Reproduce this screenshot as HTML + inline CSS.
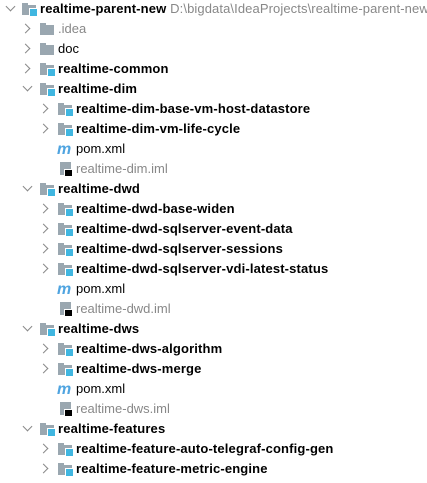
<!DOCTYPE html>
<html><head><style>
body{margin:0;width:427px;height:483px;background:#fff;overflow:hidden;position:relative;font-family:"Liberation Sans",Arial,sans-serif;font-size:13px;color:#000}
.r{position:absolute;left:0;height:20px;line-height:20px;white-space:nowrap}
.ch{position:absolute;top:6px;width:6px;height:6px;border-right:1.3px solid #888;border-bottom:1.3px solid #888}
.ch.c{transform:rotate(-45deg)}
.ch.o{transform:rotate(45deg);top:4px}
.f{position:absolute;top:4px;width:14px;height:12px}
.f:before{content:"";position:absolute;left:0;top:0;width:6px;height:3px;background:#9aa7b0}
.f:after{content:"";position:absolute;left:0;top:2px;width:14px;height:10px;background:#9aa7b0}
.f i{position:absolute;right:-2px;bottom:-2px;width:7px;height:7px;background:#40b6e0;border:1px solid #fff;z-index:2}
.t{position:absolute;top:0}
.b{font-weight:bold;letter-spacing:0.15px}
.m{position:absolute;top:1px;color:#4fa4e0;font-weight:bold;font-style:italic;font-size:16px}
.im{position:absolute;top:3px;width:11px;height:13px;background:#9aa7b0}
.im i{position:absolute;right:-2px;bottom:-2px;width:7px;height:6px;background:#000;border:1px solid #fff}
.g{color:#888}
</style></head><body>
<div class="r" style="top:-1px"><span class="ch o" style="left:7px"></span><span class="f" style="left:22px"><i></i></span><span class="t b" style="left:40px">realtime-parent-new <span style="font-weight:normal;color:#888;letter-spacing:0.1px">D:\bigdata\IdeaProjects\realtime-parent-new</span></span></div>
<div class="r" style="top:19px"><span class="ch c" style="left:22px"></span><span class="f" style="left:40px"></span><span class="t g" style="left:58px">.idea</span></div>
<div class="r" style="top:39px"><span class="ch c" style="left:22px"></span><span class="f" style="left:40px"></span><span class="t" style="left:58px">doc</span></div>
<div class="r" style="top:59px"><span class="ch c" style="left:22px"></span><span class="f" style="left:40px"><i></i></span><span class="t b" style="left:58px">realtime-common</span></div>
<div class="r" style="top:79px"><span class="ch o" style="left:24px"></span><span class="f" style="left:40px"><i></i></span><span class="t b" style="left:58px">realtime-dim</span></div>
<div class="r" style="top:99px"><span class="ch c" style="left:40px"></span><span class="f" style="left:58px"><i></i></span><span class="t b" style="left:76px">realtime-dim-base-vm-host-datastore</span></div>
<div class="r" style="top:119px"><span class="ch c" style="left:40px"></span><span class="f" style="left:58px"><i></i></span><span class="t b" style="left:76px">realtime-dim-vm-life-cycle</span></div>
<div class="r" style="top:139px"><span class="m" style="left:57px">m</span><span class="t" style="left:76px">pom.xml</span></div>
<div class="r" style="top:159px"><span class="im" style="left:60px"><i></i></span><span class="t g" style="left:76px">realtime-dim.iml</span></div>
<div class="r" style="top:179px"><span class="ch o" style="left:24px"></span><span class="f" style="left:40px"><i></i></span><span class="t b" style="left:58px">realtime-dwd</span></div>
<div class="r" style="top:199px"><span class="ch c" style="left:40px"></span><span class="f" style="left:58px"><i></i></span><span class="t b" style="left:76px">realtime-dwd-base-widen</span></div>
<div class="r" style="top:219px"><span class="ch c" style="left:40px"></span><span class="f" style="left:58px"><i></i></span><span class="t b" style="left:76px">realtime-dwd-sqlserver-event-data</span></div>
<div class="r" style="top:239px"><span class="ch c" style="left:40px"></span><span class="f" style="left:58px"><i></i></span><span class="t b" style="left:76px">realtime-dwd-sqlserver-sessions</span></div>
<div class="r" style="top:259px"><span class="ch c" style="left:40px"></span><span class="f" style="left:58px"><i></i></span><span class="t b" style="left:76px">realtime-dwd-sqlserver-vdi-latest-status</span></div>
<div class="r" style="top:279px"><span class="m" style="left:57px">m</span><span class="t" style="left:76px">pom.xml</span></div>
<div class="r" style="top:299px"><span class="im" style="left:60px"><i></i></span><span class="t g" style="left:76px">realtime-dwd.iml</span></div>
<div class="r" style="top:319px"><span class="ch o" style="left:24px"></span><span class="f" style="left:40px"><i></i></span><span class="t b" style="left:58px">realtime-dws</span></div>
<div class="r" style="top:339px"><span class="ch c" style="left:40px"></span><span class="f" style="left:58px"><i></i></span><span class="t b" style="left:76px">realtime-dws-algorithm</span></div>
<div class="r" style="top:359px"><span class="ch c" style="left:40px"></span><span class="f" style="left:58px"><i></i></span><span class="t b" style="left:76px">realtime-dws-merge</span></div>
<div class="r" style="top:379px"><span class="m" style="left:57px">m</span><span class="t" style="left:76px">pom.xml</span></div>
<div class="r" style="top:399px"><span class="im" style="left:60px"><i></i></span><span class="t g" style="left:76px">realtime-dws.iml</span></div>
<div class="r" style="top:419px"><span class="ch o" style="left:24px"></span><span class="f" style="left:40px"><i></i></span><span class="t b" style="left:58px">realtime-features</span></div>
<div class="r" style="top:439px"><span class="ch c" style="left:40px"></span><span class="f" style="left:58px"><i></i></span><span class="t b" style="left:76px">realtime-feature-auto-telegraf-config-gen</span></div>
<div class="r" style="top:459px"><span class="ch c" style="left:40px"></span><span class="f" style="left:58px"><i></i></span><span class="t b" style="left:76px">realtime-feature-metric-engine</span></div>
</body></html>
